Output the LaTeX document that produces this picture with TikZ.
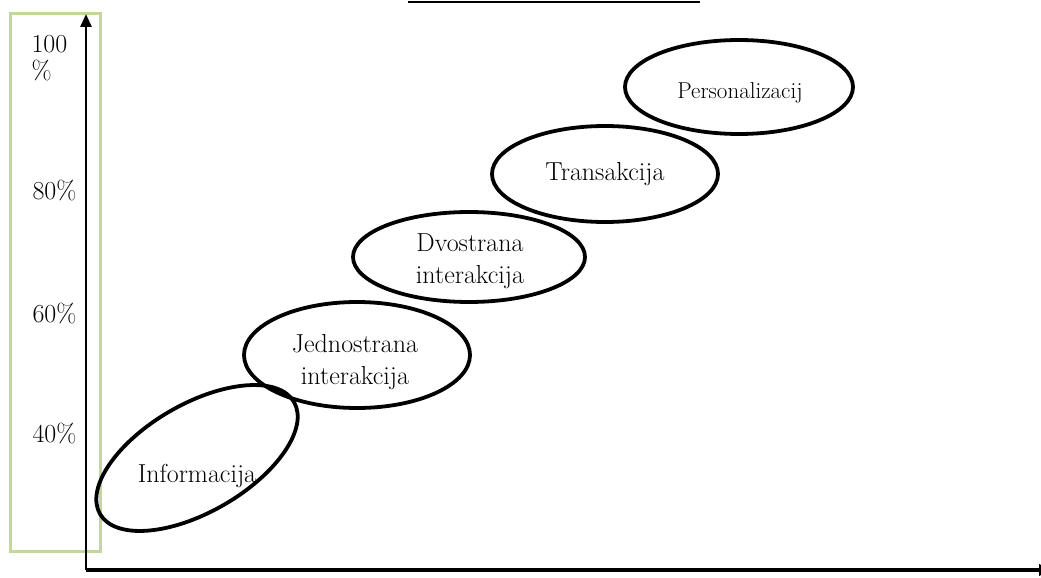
\documentclass[tikz,border=0pt]{standalone}
\usepackage{fontspec}
\usepackage{tikz}
\usetikzlibrary{arrows.meta,shapes.geometric}
\definecolor{FrameGreen}{HTML}{C3D69B}

\begin{document}
\begin{tikzpicture}[x=1pt,y=-1pt]
    \tikzset{stage/.style={ellipse,draw,line width=3.8pt,inner sep=0pt},
      stagetext/.style={align=center,font=\fontsize{26}{32}\selectfont},
      tick/.style={anchor=east,font=\fontsize{26}{30}\selectfont}}
    \clip (0,0) rectangle (1041,578);
    % frame round the scale
    \draw[FrameGreen,line width=3pt] (10,14) rectangle (100,551);
    \draw[line width=2pt] (408,2) -- (700,2);
    % axes
    \coordinate (origin) at (86,570);
    \coordinate (ytop) at (86,14);
    \coordinate (xend) at (1052,570);
    \draw[line width=2.8pt,-{Triangle[length=13pt,width=11pt]}] (origin) -- (ytop);
    \draw[line width=4pt,-{Triangle[length=13pt,width=11pt]}] (origin) -- (xend);
    \node[anchor=west,font=\fontsize{26}{30}\selectfont] (p100) at (28,44) {100};
    \node[anchor=west,font=\fontsize{26}{30}\selectfont] (pct) at (28,70) {\%};
    \node[tick] (p80) at (80,190) {80\%};
    \node[tick] (p60) at (80,313) {60\%};
    \node[tick] (p40) at (80,433) {40\%};
    % stages
    \node[stage,rotate=30,minimum width=224pt,minimum height=108pt] (info) at (197,458) {};
    \node[stage,minimum width=226pt,minimum height=106pt] (jedno) at (357,355) {};
    \node[stage,minimum width=232pt,minimum height=90pt] (dvo) at (469,257) {};
    \node[stage,minimum width=226pt,minimum height=96pt] (trans) at (605,174) {};
    \node[stage,minimum width=228pt,minimum height=94pt] (pers) at (739,87) {};
    \node[stagetext] (infotext) at (197,476) {Informacija};
    \node[stagetext] (jednotext) at (355,362) {Jednostrana\\interakcija};
    \node[stagetext] (dvotext) at (470,261) {Dvostrana\\interakcija};
    \node[stagetext] (transtext) at (605,174) {Transakcija};
    \node[stagetext,font=\fontsize{23}{28}\selectfont] (perstext) at (740,93) {Personalizacij};
  \end{tikzpicture}
\end{document}
